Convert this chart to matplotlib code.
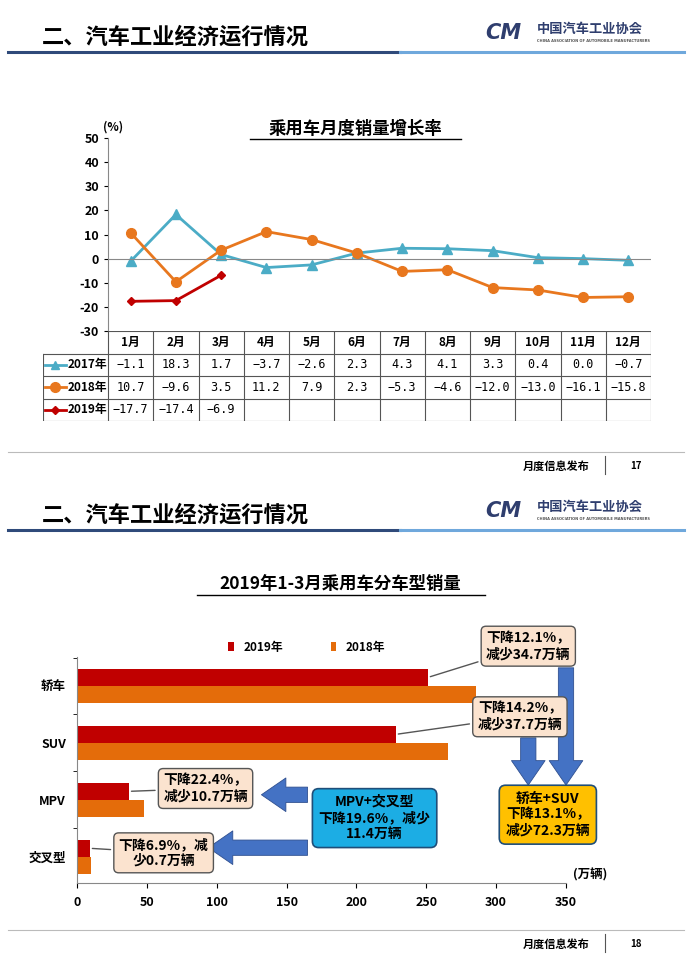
#!/usr/bin/env python3
"""Two CAAM slides: monthly passenger car sales growth and sales by type."""

import matplotlib
matplotlib.use("Agg")
import matplotlib.pyplot as plt  # type: ignore
from matplotlib import font_manager  # type: ignore
from matplotlib.lines import Line2D  # type: ignore

cjk = [f.name for f in font_manager.fontManager.ttflist if "CJK SC" in f.name]
cjk += [f.name for f in font_manager.fontManager.ttflist if "CJK" in f.name]
plt.rcParams["font.sans-serif"] = cjk[:1] + ["DejaVu Sans"]
plt.rcParams["font.family"] = "sans-serif"
plt.rcParams["font.weight"] = "bold"
plt.rcParams["axes.unicode_minus"] = False

months = ["1月", "2月", "3月", "4月", "5月", "6月",
          "7月", "8月", "9月", "10月", "11月", "12月"]
growth_2017 = [-1.1, 18.3, 1.7, -3.7, -2.6, 2.3, 4.3, 4.1, 3.3, 0.4, 0.0, -0.7]
growth_2018 = [10.7, -9.6, 3.5, 11.2, 7.9, 2.3, -5.3, -4.6, -12.0, -13.0, -16.1, -15.8]
growth_2019 = [-17.7, -17.4, -6.9]
series_names = ["2017年", "2018年", "2019年"]

car_types = ["轿车", "SUV", "MPV", "交叉型"]
sales_2019 = [251.0, 228.0, 37.0, 9.4]
sales_2018 = [285.7, 265.7, 47.7, 10.1]

W, H = 690, 956
C17, C18, C19 = "#4BACC6", "#E8771E", "#C00000"


def fx(px):
    return px / W


def fy(py):
    return 1 - py / H


fig = plt.figure(figsize=(6.9, 9.56), dpi=100)


def slide_frame(top, page):
    fig.text(fx(42), fy(top + 37), "二、汽车工业经济运行情况", fontsize=16,
             fontweight="bold", va="center")
    fig.add_artist(Line2D([fx(8), fx(400)], [fy(top + 52)] * 2, color="#2F4A7A", lw=2.2))
    fig.add_artist(Line2D([fx(400), fx(684)], [fy(top + 52)] * 2, color="#6FA8DC", lw=2.2))
    fig.text(fx(485), fy(top + 33), "CM", fontsize=15, style="italic",
             fontweight="bold", color="#2F3E6E", va="center", family="DejaVu Sans")
    fig.text(fx(537), fy(top + 29), "中国汽车工业协会", fontsize=9.5,
             color="#2F3E6E", va="center")
    fig.text(fx(537), fy(top + 41), "CHINA ASSOCIATION OF AUTOMOBILE MANUFACTURERS",
             fontsize=2.6, color="#555555", va="center", family="DejaVu Sans")
    fig.add_artist(Line2D([fx(8), fx(684)], [fy(top + 452)] * 2, color="#BBBBBB", lw=0.8))
    fig.add_artist(Line2D([fx(605), fx(605)], [fy(top + 456), fy(top + 474)],
                          color="#555555", lw=0.8))
    fig.text(fx(590), fy(top + 466), "月度信息发布", fontsize=8, ha="right", va="center")
    fig.text(fx(630), fy(top + 466), str(page), fontsize=7, ha="left", va="center")


slide_frame(0, 17)
slide_frame(478, 18)

# ---- top chart: growth lines ----
ax = fig.add_axes([fx(108), fy(331), fx(651 - 108), (331 - 138) / H])
x = list(range(12))
ax.plot(x, growth_2017, color=C17, lw=2, marker="^", ms=7)
ax.plot(x, growth_2018, color=C18, lw=2, marker="o", ms=7)
ax.plot(range(3), growth_2019, color=C19, lw=2, marker="D", ms=4)
ax.set_xlim(-0.5, 11.5)
ax.set_ylim(-30, 50)
ax.set_yticks(range(-30, 51, 10))
ax.tick_params(axis="y", labelsize=9, length=3)
ax.set_xticks([])
ax.axhline(0, color="#888888", lw=0.8)
for s in ["top", "right", "bottom"]:
    ax.spines[s].set_visible(False)
ax.spines["left"].set_color("#888888")
for lab in ax.get_yticklabels():
    lab.set_fontweight("bold")
fig.text(fx(103), fy(127), "(%)", fontsize=8.5, va="center")
fig.text(fx(355), fy(129), "乘用车月度销量增长率", fontsize=12.5, ha="center", va="center")
fig.add_artist(Line2D([fx(250), fx(461)], [fy(139)] * 2, color="black", lw=1))

# table under the line chart
lab_w = 65 / 45.25
tb = fig.add_axes([fx(43), fy(421), fx(651 - 43), (421 - 331) / H])
tb.set_xlim(-0.5 - lab_w, 11.5)
tb.set_ylim(4, 0)
tb.axis("off")
lc = "#555555"
for r in range(5):
    x0 = -0.5 if r == 0 else -0.5 - lab_w
    tb.plot([x0, 11.5], [r, r], color=lc, lw=0.8)
for c in range(13):
    tb.plot([c - 0.5, c - 0.5], [0, 4], color=lc, lw=0.8)
tb.plot([-0.5 - lab_w] * 2, [1, 4], color=lc, lw=0.8)
for i, m in enumerate(months):
    tb.text(i, 0.5, m, ha="center", va="center", fontsize=8.5)
rows = [growth_2017, growth_2018, growth_2019]
marks = [("^", C17, 6), ("o", C18, 7), ("D", C19, 4)]
for r, (vals, name, (mk, col, ms)) in enumerate(zip(rows, series_names, marks)):
    yy = r + 1.5
    tb.plot([-0.5 - lab_w + 0.05, -0.5 - lab_w + 0.5], [yy, yy], color=col, lw=2)
    tb.plot([-0.5 - lab_w + 0.27], [yy], marker=mk, color=col, ms=ms)
    tb.text(-0.5 - lab_w + 0.55, yy, name, ha="left", va="center", fontsize=8.5)
    for i, v in enumerate(vals):
        tb.text(i, yy, f"{v:.1f}".replace("-", "−"), ha="center", va="center",
                fontsize=8.5, family="DejaVu Sans Mono", fontweight="normal")

# ---- bottom chart: sales by type ----
fig.text(fx(340), fy(584), "2019年1-3月乘用车分车型销量", fontsize=12.5, ha="center", va="center")
fig.add_artist(Line2D([fx(197), fx(485)], [fy(595)] * 2, color="black", lw=1))

bx = fig.add_axes([fx(77), fy(883), fx(566 - 77), (883 - 657) / H])
pos = list(range(len(car_types)))
bh = 0.3
bx.barh([p - bh / 2 for p in pos], sales_2019, height=bh, color=C19, label="2019年")
bx.barh([p + bh / 2 for p in pos], sales_2018, height=bh, color="#E46C0A", label="2018年")
bx.set_xlim(0, 350)
bx.set_ylim(3.46, -0.51)
bx.set_xticks(range(0, 351, 50))
bx.set_yticks(pos)
bx.set_yticklabels(car_types)
bx.set_yticks([p + 0.5 for p in pos[:-1]] + [-0.5], minor=True)
bx.tick_params(axis="y", which="major", length=0, labelsize=9, pad=8)
bx.tick_params(axis="y", which="minor", length=3)
bx.tick_params(axis="x", labelsize=9, pad=6)
for s in ["top", "right"]:
    bx.spines[s].set_visible(False)
for s in ["left", "bottom"]:
    bx.spines[s].set_color("#888888")
for lab in bx.get_xticklabels() + bx.get_yticklabels():
    lab.set_fontweight("bold")
bx.legend(loc="upper center", bbox_to_anchor=(0.47, 1.12), ncol=2, frameon=False,
          fontsize=8.5, handlelength=0.5, handleheight=0.8, columnspacing=4)
fig.text(fx(590), fy(875), "(万辆)", fontsize=9, ha="center", va="center")

arrow_col = "#4472C4"
blue_arrows = [((350, -0.32), (350, 1.74)), ((323, 0.91), (323, 1.74)),
               ((165, 1.91), (132, 1.91)), ((165, 2.84), (94, 2.84))]
for (tx, ty), (hx, hy) in blue_arrows:
    bx.annotate("", xy=(hx, hy), xytext=(tx, ty), annotation_clip=False,
                arrowprops=dict(arrowstyle="simple,head_width=1.1,head_length=0.8,tail_width=0.5",
                                mutation_scale=22, shrinkA=0, shrinkB=0,
                                fc=arrow_col, ec="#2F4F8F", lw=0.6))

callout_box = dict(boxstyle="round,pad=0.35", fc="#FBE3CF", ec="#555555", lw=1)
callouts = [
    ("下降12.1%，\n减少34.7万辆", (323, -0.70), (251, -0.15)),
    ("下降14.2%，\n减少37.7万辆", (317, 0.54), (228, 0.85)),
    ("下降22.4%，\n减少10.7万辆", (92, 1.80), (37, 1.85)),
    ("下降6.9%，减\n少0.7万辆", (62, 2.93), (9, 2.85)),
]
for txt, (tx, ty), (px, py) in callouts:
    bx.annotate(txt, xy=(px, py), xytext=(tx, ty), ha="center", va="center",
                fontsize=10, bbox=callout_box, annotation_clip=False, zorder=5,
                arrowprops=dict(arrowstyle="-", color="#555555", lw=1))

bx.text(213, 2.32, "MPV+交叉型\n下降19.6%，减少\n11.4万辆", ha="center", va="center",
        fontsize=10, zorder=5, clip_on=False,
        bbox=dict(boxstyle="round,pad=0.45", fc="#1CADE4", ec="#1F4E79", lw=1.2))
bx.text(337, 2.26, "轿车+SUV\n下降13.1%，\n减少72.3万辆", ha="center", va="center",
        fontsize=10, zorder=5, clip_on=False,
        bbox=dict(boxstyle="round,pad=0.45", fc="#FFC000", ec="#1F4E79", lw=1.2))

fig.savefig("out.png", dpi=100)
